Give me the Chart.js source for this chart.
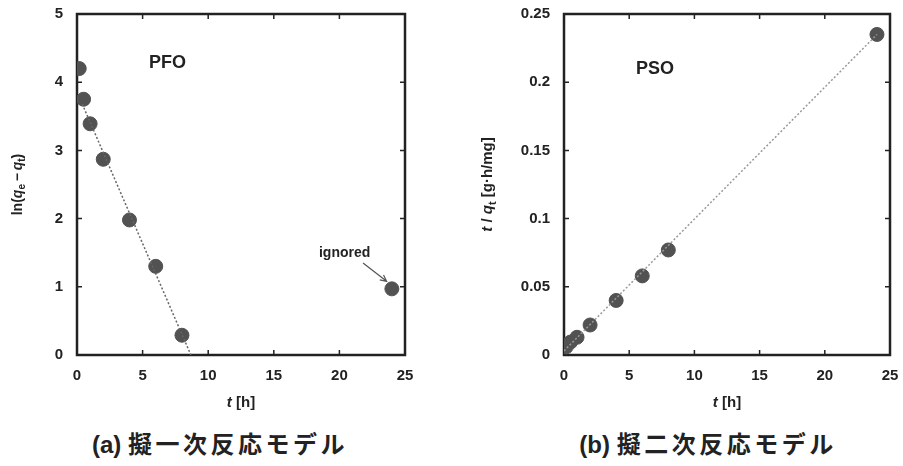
<!DOCTYPE html>
<html>
<head>
<meta charset="utf-8">
<script src="https://cdn.jsdelivr.net/npm/chart.js@4"></script>
<style>
  body { margin: 0; background: #fff; width: 903px; height: 466px; position: relative; overflow: hidden; }
  canvas { position: absolute; top: 0; }
  #pfoChart { left: 0; }
  #psoChart { left: 450px; }
  .cap {
    position: absolute; top: 425px; width: 300px; height: 30px; line-height: 30px;
    text-align: center; white-space: nowrap; color: #222;
    font: bold 24px "Liberation Sans", "Noto Sans CJK JP", sans-serif;
  }
  .cap span { letter-spacing: 3.5px; }
</style>
</head>
<body>
<canvas id="pfoChart" width="450" height="412"></canvas>
<canvas id="psoChart" width="453" height="412"></canvas>
<div class="cap" style="left:70px">(a) <span>擬一次反応モデル</span></div>
<div class="cap" style="left:558px">(b) <span>擬二次反応モデル</span></div>
<script>
// data
var pfoTime = [0.17, 0.5, 1, 2, 4, 6, 8, 24];
var pfoValue = [4.2, 3.75, 3.39, 2.87, 1.98, 1.30, 0.29, 0.97];
var pfoFitTime = [0.4, 8.68];
var pfoFitValue = [3.68, 0];

var psoTime = [0.17, 0.5, 1, 2, 4, 6, 8, 24];
var psoValue = [0.006, 0.0095, 0.013, 0.022, 0.040, 0.058, 0.077, 0.235];
var psoFitTime = [0, 24];
var psoFitValue = [0.003, 0.235];

var FONT = '"Liberation Sans", Arial, sans-serif';
var INK = '#222';

function toPoints(xs, ys) {
  var pts = [];
  for (var i = 0; i < xs.length; i++) {
    pts.push({ x: xs[i], y: ys[i] });
  }
  return pts;
}

// text with italic / subscript pieces, centred on x,y
function drawRich(ctx, parts, x, y, rot, size) {
  ctx.save();
  ctx.translate(x, y);
  ctx.rotate(rot);
  ctx.fillStyle = INK;
  ctx.textBaseline = 'middle';
  ctx.textAlign = 'left';
  var total = 0;
  var fonts = [];
  for (var i = 0; i < parts.length; i++) {
    var p = parts[i];
    var f = (p.i ? 'italic ' : '') + 'bold ' + (p.sub ? Math.round(size * 0.7) : size) + 'px ' + FONT;
    fonts.push(f);
    ctx.font = f;
    total += ctx.measureText(p.t).width;
  }
  var cx = -total / 2;
  for (var j = 0; j < parts.length; j++) {
    ctx.font = fonts[j];
    ctx.fillText(parts[j].t, cx, parts[j].sub ? size * 0.3 : 0);
    cx += ctx.measureText(parts[j].t).width;
  }
  ctx.restore();
}

var decor = {
  id: 'decor',
  beforeDatasetsDraw: function(chart, args, opts) {
    var a = chart.chartArea;
    var ctx = chart.ctx;
    var xs = chart.scales.x;
    var ys = chart.scales.y;
    ctx.save();
    ctx.strokeStyle = INK;
    ctx.lineWidth = 2.5;
    ctx.strokeRect(a.left, a.top, a.right - a.left, a.bottom - a.top);
    ctx.lineWidth = 1.5;
    ctx.beginPath();
    xs.ticks.forEach(function(t) {
      var px = xs.getPixelForValue(t.value);
      ctx.moveTo(px, a.bottom); ctx.lineTo(px, a.bottom - 5);
      ctx.moveTo(px, a.top); ctx.lineTo(px, a.top + 5);
    });
    ys.ticks.forEach(function(t) {
      var py = ys.getPixelForValue(t.value);
      ctx.moveTo(a.left, py); ctx.lineTo(a.left + 5, py);
      ctx.moveTo(a.right, py); ctx.lineTo(a.right - 5, py);
    });
    ctx.stroke();
    ctx.restore();
  },
  afterDraw: function(chart, args, opts) {
    var a = chart.chartArea;
    var ctx = chart.ctx;
    var xs = chart.scales.x;
    var ys = chart.scales.y;

    drawRich(ctx, opts.yTitle, opts.yTitleX, (a.top + a.bottom) / 2, -Math.PI / 2, opts.yTitleSize);
    drawRich(ctx, [{ t: 't', i: true }, { t: ' [h]' }], (a.left + a.right) / 2, 403, 0, 15);

    ctx.save();
    ctx.fillStyle = INK;
    ctx.textAlign = 'center';
    ctx.textBaseline = 'middle';
    ctx.font = 'bold 18px ' + FONT;
    ctx.fillText(opts.label.text, xs.getPixelForValue(opts.label.x), ys.getPixelForValue(opts.label.y));

    if (opts.note) {
      var n = opts.note;
      ctx.font = 'bold 14px ' + FONT;
      ctx.fillText(n.text, xs.getPixelForValue(n.x), ys.getPixelForValue(n.y));
      var x1 = xs.getPixelForValue(n.from[0]), y1 = ys.getPixelForValue(n.from[1]);
      var x2 = xs.getPixelForValue(n.to[0]), y2 = ys.getPixelForValue(n.to[1]);
      var ang = Math.atan2(y2 - y1, x2 - x1);
      ctx.strokeStyle = '#555';
      ctx.lineWidth = 1.2;
      ctx.beginPath();
      ctx.moveTo(x1, y1); ctx.lineTo(x2, y2);
      ctx.moveTo(x2 - 7 * Math.cos(ang - 0.45), y2 - 7 * Math.sin(ang - 0.45));
      ctx.lineTo(x2, y2);
      ctx.lineTo(x2 - 7 * Math.cos(ang + 0.45), y2 - 7 * Math.sin(ang + 0.45));
      ctx.stroke();
    }
    ctx.restore();
  }
};

function makeChart(id, pts, fit, lineColor, yMax, yStep, yWidth, padRight, extra) {
  new Chart(document.getElementById(id), {
    type: 'scatter',
    data: {
      datasets: [{
        data: fit,
        showLine: true,
        borderColor: lineColor,
        borderWidth: 1.5,
        borderDash: [2, 2],
        pointRadius: 0
      }, {
        data: pts,
        backgroundColor: '#525252',
        borderColor: '#525252',
        pointRadius: 7,
        pointHoverRadius: 7
      }]
    },
    options: {
      responsive: false,
      animation: false,
      layout: { padding: { top: 14, right: padRight, bottom: 0, left: 0 } },
      plugins: {
        legend: { display: false },
        tooltip: { enabled: false },
        decor: extra
      },
      scales: {
        x: {
          type: 'linear',
          min: 0,
          max: 25,
          ticks: { stepSize: 5, padding: 12, color: INK, font: { family: FONT, size: 15, weight: 'bold' } },
          grid: { display: false, drawTicks: false },
          border: { display: false },
          afterFit: function(s) {
            s.height = 57;
            s.paddingLeft = 0;
            s.paddingRight = 0;
          }
        },
        y: {
          min: 0,
          max: yMax,
          ticks: {
            stepSize: yStep,
            padding: 14,
            color: INK,
            font: { family: FONT, size: 15, weight: 'bold' },
            callback: function(v) { return +v.toFixed(2); }
          },
          grid: { display: false, drawTicks: false },
          border: { display: false },
          afterFit: function(s) {
            s.width = yWidth;
            s.paddingTop = 0;
            s.paddingBottom = 0;
          }
        }
      }
    },
    plugins: [decor]
  });
}

makeChart('pfoChart', toPoints(pfoTime, pfoValue), toPoints(pfoFitTime, pfoFitValue), '#666', 5, 1, 77, 45, {
  yTitle: [{ t: 'ln(' }, { t: 'q', i: true }, { t: 'e', sub: true }, { t: '\u2009\u2212\u2009' }, { t: 'q', i: true }, { t: 't', sub: true }, { t: ')' }],
  yTitleX: 18,
  yTitleSize: 14,
  label: { text: 'PFO', x: 6.9, y: 4.28 },
  note: { text: 'ignored', x: 20.4, y: 1.5, from: [21.8, 1.35], to: [23.6, 1.08] }
});

makeChart('psoChart', toPoints(psoTime, psoValue), toPoints(psoFitTime, psoFitValue), '#999', 0.25, 0.05, 114, 13, {
  yTitle: [{ t: 't', i: true }, { t: ' / ' }, { t: 'q', i: true }, { t: 't', sub: true }, { t: ' [g\u00b7h/mg]' }],
  yTitleX: 38,
  yTitleSize: 15,
  label: { text: 'PSO', x: 6.98, y: 0.2095 }
});
</script>
</body>
</html>
